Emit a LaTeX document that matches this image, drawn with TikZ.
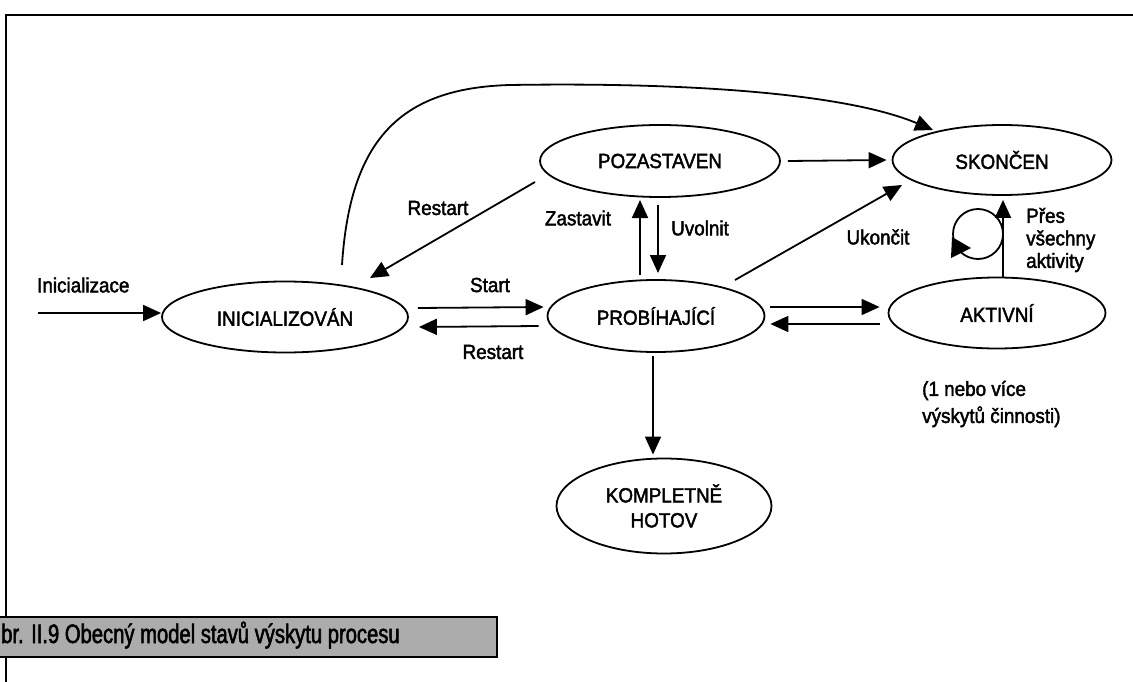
\documentclass[tikz,border=0pt]{standalone}
\usepackage{fontspec}
\setmainfont{Liberation Sans}[FakeStretch=0.92, FakeBold=2]
\newfontfamily\capfont{Liberation Sans}[FakeStretch=0.76, FakeBold=2]
\usetikzlibrary{arrows.meta,shapes.geometric,calc}
\definecolor{capgray}{RGB}{172,172,172}
\begin{document}
\begin{tikzpicture}[x=1pt,y=-1pt,
  every node/.style={font=\fontsize{20.5}{24}\selectfont, text=black},
  state/.style={draw, ellipse, line width=1.8pt, inner sep=0pt},
  conn/.style={line width=1.8pt, -{Triangle[length=18pt,width=16pt]}},
  lbl/.style={inner sep=0pt},
]
\useasboundingbox (0,0) rectangle (1133,682);
\fill[white] (0,0) rectangle (1133,682);
\draw[line width=2pt] (6,682) -- (6,15) -- (1133,15);

% states
\node[state, minimum width=246pt, minimum height=71pt] (ini) at (285,317) {INICIALIZOVÁN};
\node[state, minimum width=217pt, minimum height=72pt] (prob) at (656,316) {PROBÍHAJÍCÍ};
\node[state, minimum width=240pt, minimum height=72pt] (poz) at (660,161) {POZASTAVEN};
\node[state, minimum width=219pt, minimum height=70pt] (sk) at (1002,160) {SKONČEN};
\node[state, minimum width=217pt, minimum height=71pt] (akt) at (997,313) {AKTIVNÍ};
\node[state, minimum width=215pt, minimum height=95pt, align=center, font=\fontsize{20.5}{25}\selectfont] (komp) at (664,506) {KOMPLETNĚ\\HOTOV};

% connectors
\coordinate (init) at (38,313);
\draw[conn] (init) -- (ini.west |- init);
\draw[conn] ($(ini.east)+(9,-9)$) -- ($(prob.west)+(-3,-9)$);
\draw[conn] ($(prob.west)+(-8,10)$) -- ($(ini.east)+(10,10)$);
\draw[conn] ($(poz)+(-125,21)$) -- ($(ini)+(85,-39)$);
\draw[conn] ($(prob)+(-16,-41)$) -- ($(poz)+(-20,39)$);
\draw[conn] ($(poz)+(-2,44)$) -- ($(prob)+(2,-43)$);
\draw[conn] ($(poz.east)+(7,0)$) -- ($(sk.west)+(-5,0)$);
\draw[conn] ($(prob)+(79,-36)$) -- ($(sk)+(-100,25)$);
\draw[conn] ($(prob.east)+(5,-9)$) -- ($(akt.west)+(-8,-6)$);
\draw[conn] ($(akt.west)+(-8,11)$) -- ($(prob.east)+(5,8)$);
\draw[conn] ($(prob.south)+(-3,3)$) -- ($(komp.north)+(-11,-3)$);
\draw[conn] ($(akt.north)+(6,0)$) -- ($(sk.south)+(1,4)$);
\coordinate (c1) at (350,140);
\coordinate (c2) at (400,88);
\coordinate (cm) at (510,85);
\coordinate (c3) at (700,82);
\coordinate (c4) at (850,95);
\draw[conn] ($(ini)+(57,-52)$) .. controls (c1) and (c2) .. (cm) .. controls (c3) and (c4) .. ($(sk)+(-69,-30)$);

% self loop
\coordinate (lc) at ($(akt)+(-19,-79)$);
\draw[line width=1.8pt] (lc) circle[radius=25];
\fill ($(lc)+(-26,3)$) -- ($(lc)+(-7,14)$) -- ($(lc)+(-27,24)$) -- cycle;

% labels
\node[lbl, anchor=west] (linit) at (37,285) {Inicializace};
\node[lbl] (lstart) at (490,285) {Start};
\node[lbl] (lrestart1) at (493,352) {Restart};
\node[lbl] (lrestart2) at (438,208) {Restart};
\node[lbl] (lzast) at (578,218) {Zastavit};
\node[lbl, anchor=west] (luvol) at (671,228) {Uvolnit};
\node[lbl] (lukon) at (878,237) {Ukončit};
\node[lbl, anchor=west, align=left, font=\fontsize{20.5}{22.5}\selectfont] (lpres) at (1026,240) {Přes\\všechny\\aktivity};
\node[lbl, anchor=west, align=left, font=\fontsize{20.5}{27}\selectfont] (lvice) at (922,404) {(1 nebo více\\výskytů činnosti)};

% caption bar
\fill[capgray] (0,617) rectangle (497,657);
\draw[line width=2pt] (0,617) -- (497,617) -- (497,657) -- (0,657);
\node[lbl, anchor=base west, font=\capfont\fontsize{26.6}{28}\selectfont] (cap) at (1,643) {br. II.9 Obecný model stavů výskytu procesu};
\end{tikzpicture}
\end{document}
